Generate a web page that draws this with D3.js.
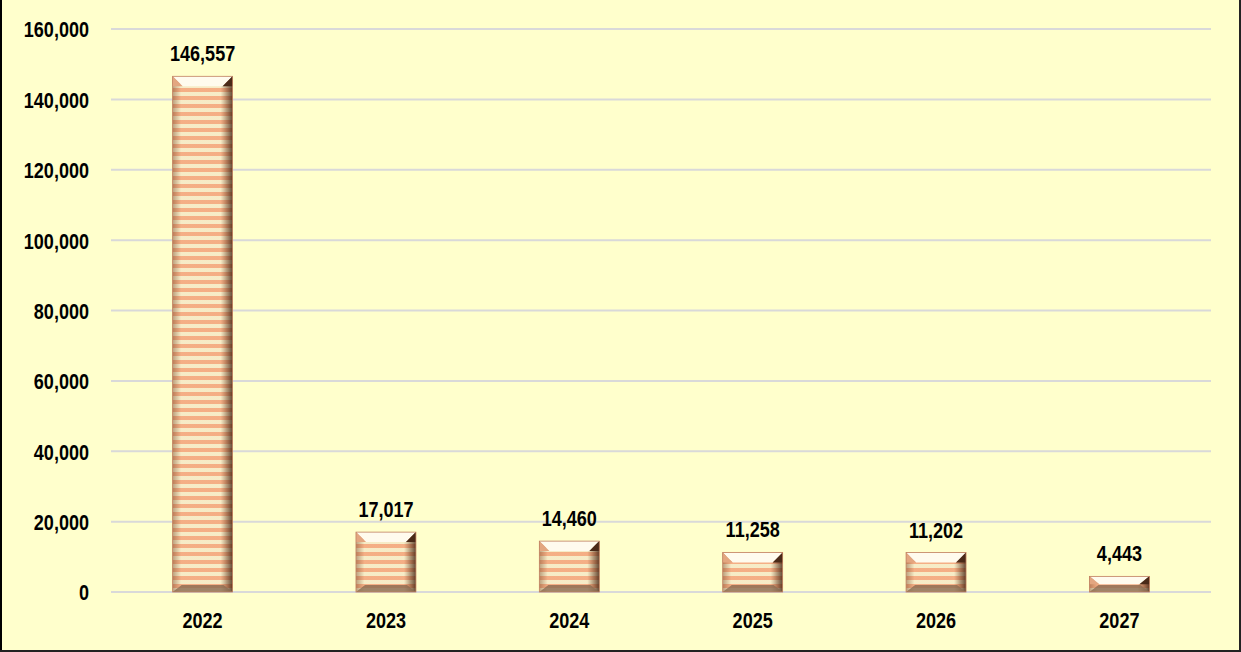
<!DOCTYPE html>
<html>
<head>
<meta charset="utf-8">
<script src="https://cdn.jsdelivr.net/npm/d3@7"></script>
<style>
  body { margin: 0; background: #fff; }
  svg text { font-family: "Liberation Sans", Arial, sans-serif; font-weight: bold; fill: #000; }
</style>
</head>
<body>
<div id="chart"></div>
<script>
var years = ["2022", "2023", "2024", "2025", "2026", "2027"];
var values = [146557, 17017, 14460, 11258, 11202, 4443];
var yTicks = [0, 20000, 40000, 60000, 80000, 100000, 120000, 140000, 160000];

var width = 1241,
    height = 652;

var narrow = 0.82; // squeeze text to look like Arial Narrow

var svg = d3.select("#chart").append("svg")
    .attr("width", width)
    .attr("height", height);

var defs = svg.append("defs");

// horizontal stripes for the bars
var pat = defs.append("pattern")
    .attr("id", "stripes")
    .attr("patternUnits", "userSpaceOnUse")
    .attr("width", 10)
    .attr("height", 8);
pat.append("rect").attr("width", 10).attr("height", 8).attr("fill", "#fdf4cf");
pat.append("rect").attr("y", 0).attr("width", 10).attr("height", 4).attr("fill", "#fbb48a");

// side shading
var side = defs.append("linearGradient").attr("id", "side").attr("x1", 0).attr("x2", 1).attr("y1", 0).attr("y2", 0);
side.append("stop").attr("offset", "0").attr("stop-color", "#7a4a2a").attr("stop-opacity", 0.5);
side.append("stop").attr("offset", "0.14").attr("stop-color", "#7a4a2a").attr("stop-opacity", 0.05);
side.append("stop").attr("offset", "0.8").attr("stop-color", "#7a4a2a").attr("stop-opacity", 0.05);
side.append("stop").attr("offset", "0.9").attr("stop-color", "#5a3018").attr("stop-opacity", 0.45);
side.append("stop").attr("offset", "1").attr("stop-color", "#3a1c0c").attr("stop-opacity", 0.8);

var left = 111, right = 1211;

var x = d3.scaleBand()
    .domain(years)
    .range([left, right])
    .paddingInner(0.673)
    .paddingOuter(0.336);

var y = d3.scaleLinear()
    .domain([0, 160000])
    .range([592, 29]);

// background and frame
svg.append("rect")
    .attr("x", 1).attr("y", 0)
    .attr("width", width - 2).attr("height", height - 1)
    .attr("fill", "#ffffcc");
svg.append("line").attr("x1", 1).attr("x2", 1).attr("y1", 0).attr("y2", height).attr("stroke", "#000").attr("stroke-width", 2);
svg.append("line").attr("x1", 0).attr("x2", width).attr("y1", height - 1).attr("y2", height - 1).attr("stroke", "#222").attr("stroke-width", 2);
svg.append("line").attr("x1", width - 1).attr("x2", width - 1).attr("y1", 0).attr("y2", height).attr("stroke", "#222").attr("stroke-width", 2);

// grid
svg.append("g")
    .selectAll("line")
    .data(yTicks)
    .enter().append("line")
    .attr("x1", left)
    .attr("x2", right)
    .attr("y1", function(d) { return y(d); })
    .attr("y2", function(d) { return y(d); })
    .attr("stroke", "#d9d9d9")
    .attr("stroke-width", 2);

// y axis
var yAxis = svg.append("g")
    .attr("transform", "translate(" + (left - 22) + ",0)")
    .call(d3.axisLeft(y).tickValues(yTicks).tickSize(0).tickFormat(d3.format(",")));
yAxis.select(".domain").remove();
yAxis.selectAll("text")
    .attr("font-size", 22)
    .attr("font-family", null)
    .attr("dy", "0.36em")
    .attr("x", 0)
    .attr("transform", "scale(" + narrow + ",1)");

// x axis
var xAxis = svg.append("g")
    .attr("transform", "translate(0," + 592 + ")")
    .call(d3.axisBottom(x).tickSize(0));
xAxis.select(".domain").remove();
xAxis.selectAll("text")
    .attr("font-size", 22)
    .attr("font-family", null)
    .attr("y", 36)
    .attr("dy", "0")
    .attr("transform", "scale(" + narrow + ",1)");

// bars
var bar = svg.append("g")
    .selectAll("g")
    .data(values)
    .enter().append("g");

function bx(d, i) { return x(years[i]); }
function by(d) { return y(d); }
function bh(d) { return y(0) - y(d); }

bar.append("rect")
    .attr("x", bx).attr("y", by)
    .attr("width", x.bandwidth()).attr("height", bh)
    .attr("fill", "url(#stripes)");

bar.append("rect")
    .attr("x", bx).attr("y", by)
    .attr("width", x.bandwidth()).attr("height", bh)
    .attr("fill", "url(#side)");

// top bevel
bar.append("path")
    .attr("d", function(d, i) {
        var x0 = bx(d, i), x1 = x0 + x.bandwidth(), t = by(d), b = Math.min(10, bh(d) / 2);
        return "M" + x0 + "," + t + "L" + x1 + "," + t + "L" + (x1 - 10) + "," + (t + b) + "L" + (x0 + 10) + "," + (t + b) + "Z";
    })
    .attr("fill", "#fffbee");
bar.append("path")
    .attr("d", function(d, i) {
        var x0 = bx(d, i), t = by(d), b = Math.min(10, bh(d) / 2);
        return "M" + x0 + "," + t + "L" + (x0 + 10) + "," + (t + b) + "L" + x0 + "," + (t + b) + "Z";
    })
    .attr("fill", "#e3a680");
bar.append("path")
    .attr("d", function(d, i) {
        var x1 = bx(d, i) + x.bandwidth(), t = by(d), b = Math.min(10, bh(d) / 2);
        return "M" + x1 + "," + t + "L" + (x1 - 10) + "," + (t + b) + "L" + x1 + "," + (t + b) + "Z";
    })
    .attr("fill", "#4a2a18");

// bottom bevel
bar.append("path")
    .attr("d", function(d, i) {
        var x0 = bx(d, i), x1 = x0 + x.bandwidth(), b0 = y(0), b = Math.min(7, bh(d) / 2);
        return "M" + x0 + "," + b0 + "L" + x1 + "," + b0 + "L" + (x1 - 9) + "," + (b0 - b) + "L" + (x0 + 9) + "," + (b0 - b) + "Z";
    })
    .attr("fill", "#8a6a50")
    .attr("opacity", 0.8);

bar.append("rect")
    .attr("x", bx).attr("y", by)
    .attr("width", x.bandwidth()).attr("height", bh)
    .attr("fill", "none")
    .attr("stroke", "#c08060")
    .attr("stroke-width", 0.8);

// value labels
svg.append("g")
    .selectAll("text")
    .data(values)
    .enter().append("text")
    .attr("transform", function(d, i) {
        return "translate(" + (x(years[i]) + x.bandwidth() / 2) + "," + (y(d) - 15) + ") scale(" + narrow + ",1)";
    })
    .attr("text-anchor", "middle")
    .attr("font-size", 22)
    .text(function(d) { return d3.format(",")(d); });
</script>
</body>
</html>
